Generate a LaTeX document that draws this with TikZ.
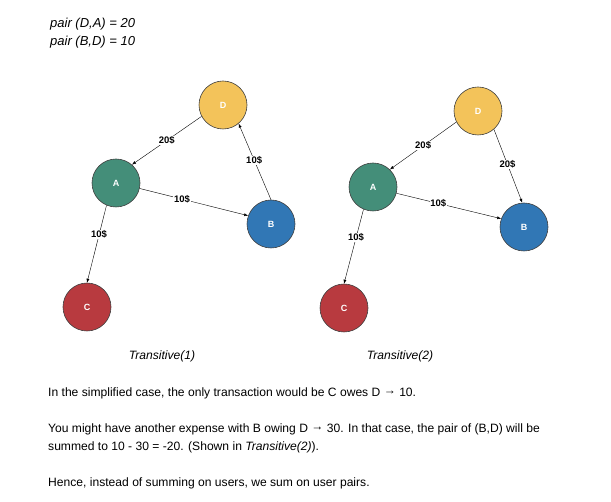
\documentclass[tikz,border=0pt]{standalone}
\usepackage{fontspec}
\setmainfont{Liberation Sans}
\usepackage{tikz}
\usepackage{xcolor}
\usetikzlibrary{arrows.meta}
\definecolor{userA}{HTML}{448E79}
\definecolor{userB}{HTML}{3177B5}
\definecolor{userC}{HTML}{B83A3F}
\definecolor{userD}{HTML}{F3C35A}
\newcommand{\owetip}{-{Latex[length=4pt,width=3pt]}}
\newcommand{\owes}{\raisebox{2.5pt}{→}}

\begin{document}
\begin{tikzpicture}[x=1pt, y=-1pt,
  user/.style={circle, draw=black!75, line width=0.6pt, minimum size=48pt, inner sep=0pt, text=white, font=\fontsize{9}{10}\selectfont\bfseries},
  debt/.style={fill=white, inner sep=0.6pt, font=\fontsize{9.5}{10}\selectfont\bfseries},
  prose/.style={anchor=base west, inner sep=0pt, font=\fontsize{12.1}{15}\selectfont}]
\useasboundingbox (0,0) rectangle (611,502);
\fill[white] (0,0) rectangle (611,502);
% header
\node[prose, font=\fontsize{13}{15}\selectfont] (pairDA) at (50,28) {\itshape pair (D,A) = 20};
\node[prose, font=\fontsize{13}{15}\selectfont] (pairBD) at (50,46) {\itshape pair (B,D) = 10};
% Transitive(1)
\node[user, fill=userD] (d1) at (223,105) {D};
\node[user, fill=userA] (a1) at (116,183) {A};
\node[user, fill=userB] (b1) at (271,224) {B};
\node[user, fill=userC] (c1) at (87,307) {C};
\draw[\owetip] (d1.208) -- node[debt, pos=0.5] {20\$} (a1.49);
\draw[\owetip] (b1.north) -- node[debt, pos=0.52] {10\$} (d1.-50);
\draw[\owetip] (a1.-13) -- node[debt, pos=0.39] {10\$} (b1.160);
\draw[\owetip] (a1.247) -- node[debt, pos=0.38] {10\$} (c1.north);
% Transitive(2)
\node[user, fill=userD] (d2) at (478,111) {D};
\node[user, fill=userA] (a2) at (373,187) {A};
\node[user, fill=userB] (b2) at (524,227) {B};
\node[user, fill=userC] (c2) at (344,308) {C};
\draw[\owetip] (d2.207) -- node[debt, pos=0.5] {20\$} (a2.46);
\draw[\owetip] (d2.-49) -- node[debt, pos=0.48] {20\$} (b2.94);
\draw[\owetip] (a2.-15) -- node[debt, pos=0.40] {10\$} (b2.160);
\draw[\owetip] (a2.247) -- node[debt, pos=0.38] {10\$} (c2.north);
% captions
\node[prose, anchor=base] (cap1) at (162,360) {\itshape Transitive(1)};
\node[prose, anchor=base] (cap2) at (400,360) {\itshape Transitive(2)};
% text
\node[prose] (line1) at (48,397) {In the simplified case, the only transaction would be C owes D \owes{} 10.};
\node[prose] (line2) at (48,433) {You might have another expense with B owing D \owes{} 30. In that case, the pair of (B,D) will be};
\node[prose] (line3) at (48,451) {summed to 10 - 30 = -20. (Shown in \textit{Transitive(2)}).};
\node[prose] (line4) at (48,487) {Hence, instead of summing on users, we sum on user pairs.};
\end{tikzpicture}
\end{document}
